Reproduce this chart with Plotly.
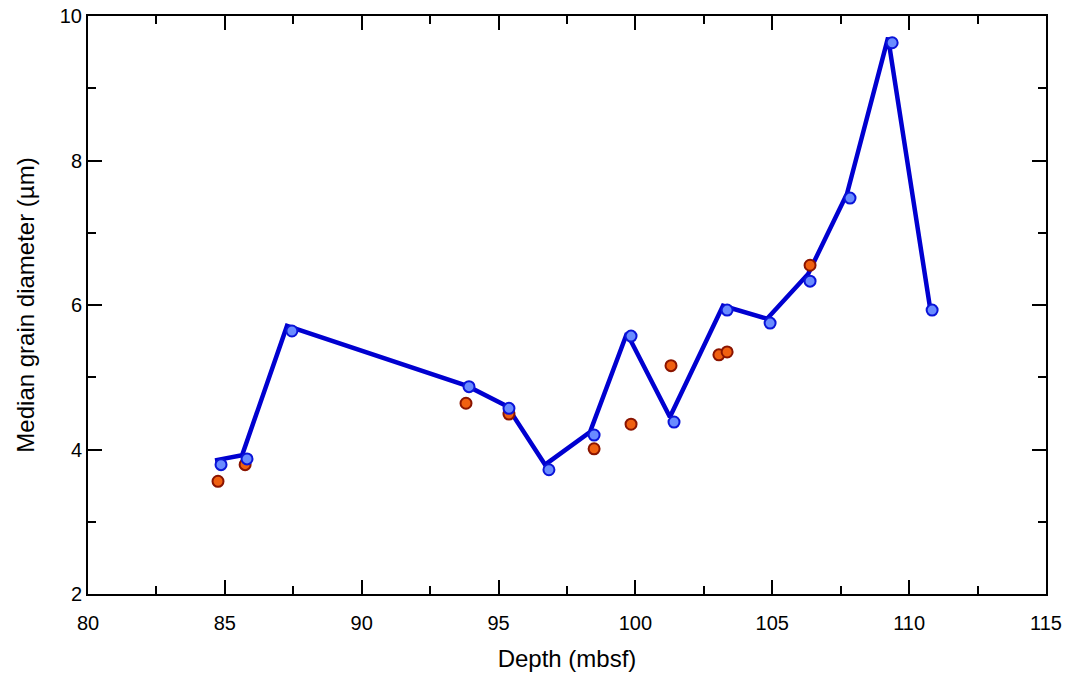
import plotly.graph_objects as go

# Line series
line_x = [84.64, 85.63, 87.27, 93.85, 95.31, 96.70, 98.34, 99.69, 101.26, 103.20, 104.81, 106.31, 107.73, 109.23, 110.76]
line_y = [3.85, 3.92, 5.71, 4.88, 4.60, 3.79, 4.24, 5.61, 4.45, 5.99, 5.81, 6.43, 7.54, 9.70, 5.97]

# Blue markers
blue_x = [84.86, 85.81, 87.45, 93.92, 95.38, 96.84, 98.49, 99.84, 101.41, 103.35, 104.92, 106.38, 107.84, 109.38, 110.84]
blue_y = [3.79, 3.87, 5.64, 4.87, 4.57, 3.72, 4.20, 5.57, 4.38, 5.93, 5.75, 6.33, 7.48, 9.63, 5.93]

# Orange markers
orange_x = [84.75, 85.74, 93.81, 95.38, 98.49, 99.84, 101.30, 103.05, 103.35, 106.38]
orange_y = [3.56, 3.79, 4.64, 4.49, 4.01, 4.35, 5.16, 5.31, 5.35, 6.55]

FONT = "Liberation Sans, Arial, Helvetica, sans-serif"

fig = go.Figure()
fig.add_trace(go.Scatter(x=line_x, y=line_y, mode="lines",
                         line=dict(color="#0000D0", width=4.5), showlegend=False))
fig.add_trace(go.Scatter(x=orange_x, y=orange_y, mode="markers",
                         marker=dict(size=11, color="#F06010", line=dict(color="#8A1400", width=2)),
                         showlegend=False))
fig.add_trace(go.Scatter(x=blue_x, y=blue_y, mode="markers",
                         marker=dict(size=11, color="#6A8CFF", line=dict(color="#0A14D8", width=2)),
                         showlegend=False))

axis_common = dict(showgrid=False, zeroline=False, showline=True, linecolor="black", linewidth=2,
                   ticks="inside", ticklen=14, tickwidth=2, tickcolor="black", mirror="allticks",
                   automargin=False, ticklabeloverflow="allow",
                   tickfont=dict(family=FONT, size=20, color="black"))

fig.update_xaxes(range=[80, 115], dtick=5, tick0=80, ticklabelstandoff=10,
                 minor=dict(dtick=2.5, ticks="inside", ticklen=8, tickwidth=2, tickcolor="black"),
                 title=dict(text="Depth (mbsf)", font=dict(family=FONT, size=24, color="black"), standoff=17),
                 **axis_common)
fig.update_yaxes(range=[2, 10], dtick=2, tick0=2,
                 minor=dict(dtick=1, ticks="inside", ticklen=8, tickwidth=2, tickcolor="black"),
                 title=dict(text="Median grain diameter (µm)", font=dict(family=FONT, size=24, color="black"), standoff=18),
                 **axis_common)

fig.update_layout(width=1072, height=675, margin=dict(l=88, r=26, t=16, b=81),
                  plot_bgcolor="white", paper_bgcolor="white", hovermode=False)
fig.write_html("out.html", config={"displayModeBar": False, "staticPlot": True},
               post_script="document.body.style.margin='0';document.body.style.overflow='hidden';")
